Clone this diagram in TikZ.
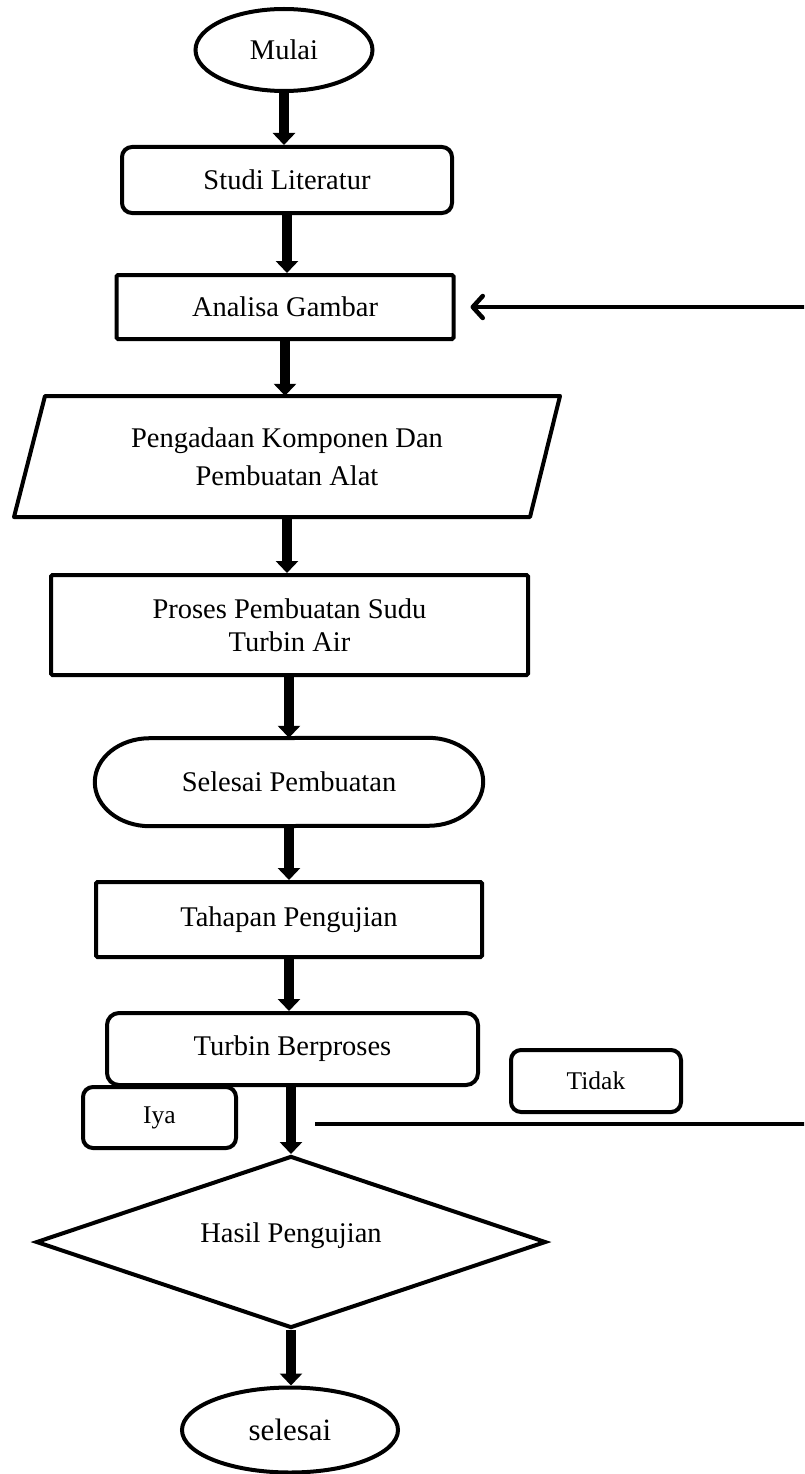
\documentclass[tikz,border=0pt]{standalone}
\usepackage{fontspec}
\setmainfont{Liberation Serif}
\usetikzlibrary{arrows.meta,shapes.geometric}
\newcommand\fmain{\fontsize{28.5}{34}\selectfont}
\newcommand\fsmall{\fontsize{25.5}{30}\selectfont}
\newcommand\fbig{\fontsize{31}{36}\selectfont}
\tikzset{
  base/.style={draw, line width=4pt, align=center, inner sep=0pt, font=\fmain},
  rbox/.style={base, rectangle, rounded corners=10pt},
  sbox/.style={base, rectangle, rounded corners=1.5pt},
  outline/.style={line width=4pt, line join=round},
  flow/.style={line width=10pt, -{Triangle[length=12pt,width=22pt]}},
  ret/.style={line width=4.5pt, -{Straight Barb[length=10pt,width=22pt,line cap=round,line join=round]}, shorten >=15pt}
}
\begin{document}
\begin{tikzpicture}[x=1pt,y=-1pt]
\useasboundingbox (0,0) rectangle (804,1474);
\clip (0,0) rectangle (804,1474);
\fill[white] (0,0) rectangle (804,1474);

\node[base, ellipse, minimum width=177pt, minimum height=82pt] (mulai) at (284,50) {Mulai};
\node[rbox, minimum width=330pt, minimum height=66pt] (studi) at (287,180) {Studi Literatur};
\node[sbox, minimum width=337pt, minimum height=64pt] (analisa) at (285,307) {Analisa Gambar};

\node[align=center, inner sep=0pt, minimum width=480pt, minimum height=121pt, font={\fontsize{28.5}{38}\selectfont}] (para) at (287,456.5) {Pengadaan Komponen Dan\\Pembuatan Alat};
\draw[outline] (45,396) -- (560,396) -- (530,517) -- (14,517) -- cycle;

\node[sbox, minimum width=477pt, minimum height=100pt, font={\fontsize{28.5}{33}\selectfont}] (proses) at (289.5,625) {Proses Pembuatan Sudu\\Turbin Air};

\node[inner sep=0pt, minimum width=388pt, minimum height=88pt, font=\fmain] (selpb) at (289,782) {Selesai Pembuatan};
\draw[outline] ([xshift=-55pt]selpb.north east) arc[start angle=90, end angle=-90, x radius=55pt, y radius=44pt]
  -- ([xshift=55pt]selpb.south west) arc[start angle=270, end angle=90, x radius=55pt, y radius=44pt] -- cycle;

\node[sbox, minimum width=386pt, minimum height=75pt] (tahapan) at (289,919.5) {Tahapan Pengujian};
\node[rbox, rounded corners=12pt, minimum width=371pt, minimum height=72pt] (turbin) at (292.5,1049) {Turbin Berproses};
\node[rbox, font=\fsmall, minimum width=153pt, minimum height=61pt] (iya) at (159.5,1117.5) {Iya};
\node[rbox, font=\fsmall, minimum width=170pt, minimum height=62pt] (tidak) at (596,1081) {Tidak};
\node[base, diamond, aspect=3, minimum width=510pt, minimum height=172pt, text height=20pt, text depth=20pt] (hasil) at (291,1242) {Hasil Pengujian};
\node[base, ellipse, font=\fbig, minimum width=216pt, minimum height=85pt] (selesai) at (290,1430) {selesai};

\draw[flow] (mulai.south) -- (mulai.south |- studi.north);
\draw[flow] (studi.south) -- (studi.south |- analisa.north);
\draw[flow] (analisa.south) -- (analisa.south |- para.north);
\draw[flow] (para.south) -- (para.south |- proses.north);
\draw[flow] (selpb.north |- proses.south) -- (selpb.north);
\draw[flow] (selpb.south) -- (selpb.south |- tahapan.north);
\draw[flow] (tahapan.south) -- (tahapan.south |- turbin.north);
\draw[flow] (hasil.north |- turbin.south) -- (hasil.north);
\draw[flow] (hasil.south) -- (hasil.south |- selesai.north);

\coordinate (t0) at (315,1124);
\draw[ret] (t0) -- (830,1124) |- (analisa.east);
\end{tikzpicture}
\end{document}
